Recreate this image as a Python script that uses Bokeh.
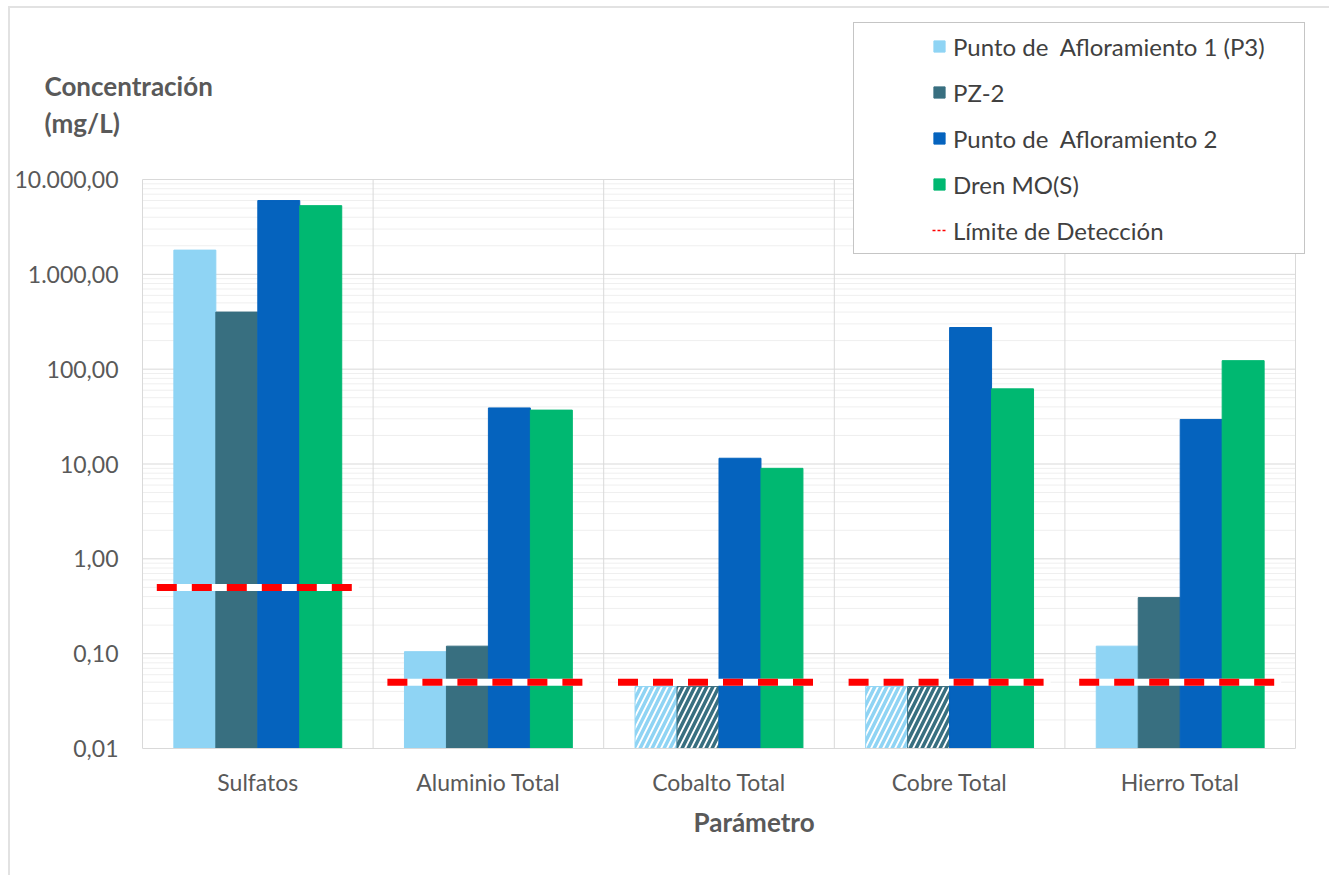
import numpy as np
from bokeh.plotting import figure
from bokeh.models import (ColumnDataSource, FixedTicker, Range1d, Legend,
                          LegendItem, Title, Label)
from bokeh.embed import file_html
from bokeh.resources import INLINE

# ---------------- data ----------------
categorias = ["Sulfatos", "Aluminio Total", "Cobalto Total", "Cobre Total", "Hierro Total"]
series_nombres = ["Punto de  Afloramiento 1 (P3)", "PZ-2", "Punto de  Afloramiento 2", "Dren MO(S)"]
p3 = [1800, 0.105, 0.045, 0.045, 0.12]
pz2 = [400, 0.12, 0.045, 0.045, 0.39]
pa2 = [6000, 39, 11.5, 275, 29.5]
dren = [5300, 37, 9, 62, 123]
limite_deteccion = [0.5, 0.05, 0.05, 0.05, 0.05]
y_ticks = [0.01, 0.1, 1, 10, 100, 1000, 10000]
y_tick_labels = ["0,01", "0,10", "1,00", "10,00", "100,00", "1.000,00", "10.000,00"]

colores = ["#8FD4F4", "#386F80", "#0563BE", "#00B871"]
series = [p3, pz2, pa2, dren]

FONT = "Lato"
FS = "23px"
TXT = "#595959"
GRID = "#d9d9d9"

# ---------------- layout (page pixels) ----------------
OX, OY = 10, 8                                         # canvas origin (after chart border)
RIGHT, BOTTOM = 1331, 877
AREA_L, AREA_R, AREA_T, AREA_B = 142, 1295, 179, 748   # plotting area
FR_L, FR_R, FR_T = 40, 1306, 20                        # frame (room for legend/titles)
ncat = len(categorias)
ux = ncat / (AREA_R - AREA_L)                          # data units per px (x)
dec_px = (AREA_B - AREA_T) / (np.log10(y_ticks[-1]) - np.log10(y_ticks[0]))
y_lo, y_hi = y_ticks[0], y_ticks[-1]
x_start = -(AREA_L - FR_L) * ux
x_end = ncat + (FR_R - AREA_R) * ux
y_end = 10 ** (np.log10(y_hi) + (AREA_T - FR_T) / dec_px)

def ypx(py):
    return 10 ** (np.log10(y_hi) + (AREA_T - py) / dec_px)

def xpx(px):
    return (px - AREA_L) * ux

p = figure(width=RIGHT - OX, height=BOTTOM - OY, output_backend="svg", toolbar_location=None,
           x_range=Range1d(x_start, x_end), y_range=Range1d(y_lo, y_end),
           y_axis_type="log", min_border_left=FR_L - OX, min_border_right=RIGHT - FR_R,
           min_border_top=FR_T - OY, min_border_bottom=BOTTOM - AREA_B)
p.styles = {"margin-left": "8px", "margin-top": "6px",
            "border-left": "2px solid #e2e2e2", "border-top": "2px solid #e2e2e2"}
p.outline_line_color = None
p.background_fill_color = "white"
p.border_fill_color = "white"
p.xgrid.visible = False
p.ygrid.visible = False

# ---------------- grid of the plotting area ----------------
minor = [m * 10.0 ** e for e in range(-2, 4) for m in range(2, 10)]
p.segment(x0=0, x1=ncat, y0=minor, y1=minor, line_color="#efefef", line_width=1)
p.segment(x0=0, x1=ncat, y0=y_ticks, y1=y_ticks, line_color=GRID, line_width=1)
xb = list(range(0, ncat + 1))
p.segment(x0=xb, x1=xb, y0=y_lo, y1=y_hi, line_color=GRID, line_width=1)

# ---------------- axes ----------------
centros = np.arange(ncat) + 0.5
p.xaxis.ticker = FixedTicker(ticks=list(centros))
p.xaxis.major_label_overrides = {float(c): n for c, n in zip(centros, categorias)}
p.xaxis.bounds = (0, ncat)
p.yaxis.ticker = FixedTicker(ticks=y_ticks)
p.yaxis.major_label_overrides = dict(zip(y_ticks, y_tick_labels))
for ax in (p.xaxis, p.yaxis):
    ax.major_tick_line_color = None
    ax.minor_tick_line_color = None
    ax.major_tick_out = 0
    ax.minor_tick_out = 0
    ax.major_label_text_font = FONT
    ax.major_label_text_font_size = FS
    ax.major_label_text_color = TXT
p.xaxis.axis_line_color = GRID
p.yaxis.axis_line_color = None
p.xaxis.major_label_standoff = 19
p.yaxis.major_label_standoff = -(AREA_L - 24 - FR_L)

# ---------------- bars ----------------
w = 0.182
offsets = [-1.5 * w, -0.5 * w, 0.5 * w, 1.5 * w]
bar_renderers = []
for vals, col, off in zip(series, colores, offsets):
    bajo = [v < l for v, l in zip(vals, limite_deteccion)]
    src = ColumnDataSource(dict(
        x=centros + off,
        top=vals,
        bottom=[y_lo] * len(vals),
        fill=["white" if b else col for b in bajo],
        hatch=["/" if b else " " for b in bajo],
    ))
    r = p.vbar(x="x", top="top", bottom="bottom", width=w, source=src,
               fill_color="fill", line_color=col, line_width=1,
               hatch_pattern="hatch", hatch_color=col, hatch_weight=3.5, hatch_scale=12)
    bar_renderers.append(r)

# ---------------- detection limit lines ----------------
half = 0.438
lim_src = ColumnDataSource(dict(x0=centros - half, x1=centros + half,
                                y=limite_deteccion))
p.segment(x0="x0", x1="x1", y0="y", y1="y", source=lim_src,
          line_color="white", line_width=7, line_cap="butt")
p.segment(x0="x0", x1="x1", y0="y", y1="y", source=lim_src,
          line_color="#FF0000", line_width=7, line_dash="20 15", line_cap="butt")
nan2 = [np.nan, np.nan]
leg_line = p.line(x=nan2, y=nan2, line_color="#FF0000", line_width=1.5, line_dash="3 2")
dummy = p.line(x=nan2, y=nan2, line_alpha=0)

# ---------------- titles ----------------
for txt, py in (("Concentración", 85), ("(mg/L)", 122)):
    p.add_layout(Label(x=xpx(44), y=ypx(py), text=txt, text_font=FONT,
                       text_font_size="26px", text_font_style="bold",
                       text_color=TXT, text_baseline="middle"))
xtitle = Title(text="Parámetro", align="left", offset=693 - FR_L,
               text_font=FONT, text_font_size="26px", text_font_style="bold",
               text_color=TXT)
p.add_layout(xtitle, "below")

# ---------------- legend ----------------
box = Legend(items=[LegendItem(label=" ", renderers=[dummy])],
             location=(853 - FR_L, AREA_B - 254), padding=0, glyph_width=14,
             glyph_height=14, label_standoff=7, label_width=429, label_height=230,
             background_fill_color="white", background_fill_alpha=1.0,
             border_line_color="#8c8c8c", border_line_width=1.5)
p.add_layout(box)

items = [LegendItem(label=n, renderers=[r]) for n, r in zip(series_nombres, bar_renderers)]
items.append(LegendItem(label="Límite de Detección", renderers=[leg_line]))
legend = Legend(items=items, location=(932 - FR_L, AREA_B - 245), padding=0, spacing=16,
                label_height=30, glyph_height=14, glyph_width=14,
                label_standoff=7,
                background_fill_alpha=0, border_line_alpha=0,
                label_text_font=FONT, label_text_font_size="24px",
                label_text_color="#404040")
p.add_layout(legend)

open("out.html", "w").write(file_html(p, INLINE))
